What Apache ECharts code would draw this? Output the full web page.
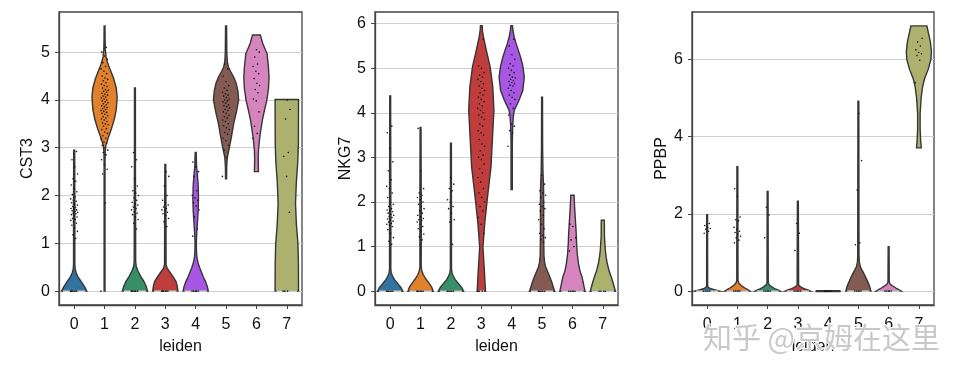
<!DOCTYPE html>
<html><head><meta charset="utf-8">
<script src="https://cdn.jsdelivr.net/npm/echarts@6/dist/echarts.min.js"></script>
<style>html,body{margin:0;padding:0;background:#fff}#c{width:964px;height:374px}</style>
</head><body><div id="c"></div>
<script>
// ---------- data ----------
const categories = ['0','1','2','3','4','5','6','7'];
const genes = ['CST3','NKG7','PPBP'];
const cst3Ticks = [0,1,2,3,4,5];
const nkg7Ticks = [0,1,2,3,4,5,6];
const ppbpTicks = [0,2,4,6];

// violin density profiles per cluster: [expression value, relative width]
const cst3Shapes = [
  [[0,1],[0.09,0.83],[0.2,0.56],[0.3,0.3],[0.38,0.16],[0.46,0.08],[0.56,0.05],[1.5,0.05],[1.8,0.055],[2.2,0.045],[2.95,0.04]],
  [[0,0.035],[2.6,0.035],[2.9,0.05],[3.05,0.1],[3.2,0.28],[3.4,0.55],[3.6,0.78],[3.8,0.93],[4.05,1],[4.25,0.93],[4.45,0.72],[4.6,0.5],[4.75,0.27],[4.9,0.12],[5.05,0.06],[5.3,0.04],[5.55,0.035]],
  [[0,1],[0.09,0.9],[0.2,0.72],[0.3,0.48],[0.42,0.24],[0.52,0.1],[0.62,0.06],[1.8,0.05],[2.5,0.04],[4.25,0.035]],
  [[0,1],[0.1,0.95],[0.2,0.85],[0.3,0.62],[0.4,0.35],[0.48,0.14],[0.56,0.06],[1.7,0.05],[2.65,0.035]],
  [[0,1],[0.1,0.92],[0.2,0.78],[0.3,0.6],[0.4,0.45],[0.5,0.3],[0.6,0.18],[0.7,0.1],[0.85,0.06],[1.0,0.05],[1.2,0.08],[1.45,0.14],[1.7,0.2],[1.95,0.22],[2.2,0.2],[2.45,0.13],[2.6,0.07],[2.9,0.04]],
  [[2.35,0.04],[2.6,0.05],[2.8,0.1],[3.0,0.26],[3.25,0.44],[3.5,0.6],[3.75,0.82],[4.0,1.0],[4.2,0.93],[4.35,0.8],[4.48,0.6],[4.6,0.35],[4.69,0.19],[4.8,0.1],[5.0,0.06],[5.55,0.04]],
  [[2.5,0.16],[2.75,0.14],[2.95,0.16],[3.23,0.27],[3.58,0.47],[3.8,0.65],[4.0,0.83],[4.25,0.96],[4.48,1.0],[4.7,0.95],[4.97,0.84],[5.18,0.5],[5.36,0.31]],
  [[0,0.93],[0.6,0.92],[1.0,0.88],[1.4,0.76],[1.84,0.69],[2.3,0.76],[2.7,0.87],[3.1,0.92],[4.01,0.93]]
];
const nkg7Shapes = [
  [[0,1],[0.08,0.86],[0.17,0.6],[0.26,0.34],[0.34,0.18],[0.42,0.08],[0.5,0.05],[1.5,0.055],[2.0,0.05],[4.38,0.035]],
  [[0,1],[0.09,0.88],[0.19,0.64],[0.29,0.38],[0.38,0.2],[0.47,0.09],[0.55,0.05],[1.6,0.06],[2.3,0.05],[3.67,0.035]],
  [[0,1],[0.08,0.86],[0.17,0.6],[0.26,0.34],[0.34,0.18],[0.42,0.08],[0.5,0.045],[3.32,0.035]],
  [[0,0.33],[0.47,0.24],[0.99,0.13],[1.52,0.27],[2.11,0.49],[2.79,0.77],[3.46,0.89],[4.06,1],[4.58,0.91],[5.03,0.7],[5.4,0.4],[5.7,0.17],[5.85,0.09],[5.95,0.07]],
  [[2.28,0.05],[3.3,0.05],[3.6,0.07],[3.76,0.09],[3.95,0.14],[4.06,0.21],[4.28,0.58],[4.5,0.88],[4.8,1],[5.05,0.88],[5.25,0.7],[5.4,0.53],[5.55,0.35],[5.7,0.2],[5.85,0.1],[5.95,0.06]],
  [[0,1],[0.08,0.9],[0.18,0.8],[0.32,0.62],[0.45,0.42],[0.55,0.28],[0.65,0.2],[0.8,0.15],[1.2,0.13],[1.8,0.13],[2.3,0.12],[2.7,0.07],[3.2,0.045],[4.35,0.035]],
  [[0,1],[0.1,0.92],[0.2,0.85],[0.32,0.76],[0.45,0.6],[0.62,0.48],[0.85,0.38],[1.07,0.33],[1.3,0.3],[1.52,0.25],[1.75,0.2],[1.89,0.17],[2.15,0.13]],
  [[0,1],[0.1,0.9],[0.2,0.8],[0.32,0.67],[0.45,0.5],[0.62,0.35],[0.77,0.26],[0.92,0.2],[1.22,0.13],[1.59,0.12]]
];
const ppbpShapes = [
  [[0,1],[0.02,0.8],[0.04,0.55],[0.06,0.32],[0.08,0.16],[0.11,0.06],[0.15,0.04],[1.98,0.035]],
  [[0,1],[0.04,0.82],[0.08,0.6],[0.12,0.4],[0.17,0.22],[0.22,0.1],[0.28,0.05],[3.22,0.035]],
  [[0,1],[0.03,0.82],[0.06,0.6],[0.1,0.38],[0.14,0.2],[0.18,0.09],[0.22,0.05],[2.58,0.035]],
  [[0,1],[0.03,0.8],[0.06,0.55],[0.09,0.33],[0.12,0.16],[0.16,0.06],[2.33,0.035]],
  [[0,1]],
  [[0,1],[0.1,0.92],[0.2,0.8],[0.33,0.62],[0.46,0.43],[0.55,0.28],[0.63,0.16],[0.75,0.08],[0.9,0.05],[4.92,0.035]],
  [[0,1],[0.04,0.8],[0.08,0.58],[0.12,0.38],[0.16,0.2],[0.2,0.09],[0.25,0.05],[1.15,0.035]],
  [[3.71,0.19],[3.9,0.14],[4.2,0.1],[4.6,0.1],[5.0,0.18],[5.3,0.3],[5.5,0.45],[5.75,0.75],[6.0,0.96],[6.2,1.0],[6.45,0.92],[6.7,0.75],[6.87,0.64]]
];

// individual cells (strip points) per cluster
const cst3Dots = [
  [0,0,0,0,0,0,1.1,1.18,1.25,1.32,1.38,1.42,1.45,1.48,1.5,1.52,1.55,1.57,1.6,1.62,1.63,1.65,1.67,1.68,1.7,1.72,1.73,1.75,1.77,1.8,1.82,1.85,1.88,1.9,1.93,1.97,2.02,2.08,2.15,2.22,2.3,2.35,2.45,2.6,2.75,2.92],
  [0,1.85,2.45,2.55,2.65,2.75,2.85,2.9,2.95,3.0,3.05,3.1,3.12,3.18,3.2,3.25,3.3,3.33,3.38,3.4,3.45,3.48,3.5,3.52,3.55,3.58,3.6,3.62,3.65,3.67,3.7,3.72,3.74,3.76,3.78,3.8,3.82,3.84,3.86,3.88,3.9,3.92,3.94,3.96,3.98,4.0,4.02,4.04,4.06,4.08,4.1,4.12,4.14,4.16,4.18,4.2,4.22,4.25,4.28,4.3,4.33,4.36,4.4,4.43,4.46,4.5,4.55,4.6,4.65,4.7,4.78,4.85,4.92,5.0,5.1],
  [0,0,0,0,0,0,1.3,1.42,1.5,1.55,1.6,1.63,1.66,1.7,1.73,1.76,1.8,1.83,1.86,1.9,1.95,2.0,2.05,2.1,2.2,2.35,2.6,2.75,2.9],
  [0,0,0,0,0,0,1.35,1.45,1.52,1.58,1.62,1.65,1.68,1.7,1.73,1.76,1.8,1.85,1.9,2.0,2.2,2.4,2.5],
  [0,0,0,0,0,1.15,1.3,1.55,1.7,1.78,1.85,1.9,1.95,2.0,2.1,2.4,2.5,2.6,2.7],
  [2.4,2.8,2.95,3.05,3.15,3.2,3.28,3.32,3.38,3.42,3.46,3.5,3.55,3.58,3.62,3.65,3.68,3.72,3.75,3.78,3.8,3.83,3.86,3.88,3.9,3.93,3.96,3.98,4.0,4.02,4.05,4.08,4.1,4.13,4.16,4.2,4.25,4.3,4.38,4.5,4.65,4.75],
  [3.2,3.3,3.45,3.75,3.98,4.02,4.15,4.22,4.3,4.35,4.45,4.55,4.6,4.7,4.75,4.9,5.0,5.05],
  [0,0,0,1.65,2.4,2.82,2.9,3.6,3.8,4.0]
];
const nkg7Dots = [
  [0,0,0,0,0,0,1.05,1.12,1.2,1.3,1.38,1.45,1.48,1.5,1.52,1.55,1.57,1.6,1.62,1.65,1.67,1.7,1.72,1.75,1.78,1.8,1.82,1.85,1.9,1.95,2.0,2.1,2.2,2.3,2.35,2.5,2.7,2.9,3.2,3.55,3.7],
  [0,0,0,0,0,0,1.15,1.22,1.28,1.35,1.4,1.45,1.5,1.55,1.58,1.6,1.63,1.67,1.7,1.75,1.8,1.85,1.9,1.95,2.0,2.05,2.1,2.15,2.2,2.3,2.7,3.65],
  [0,0,0,0,0,0,1.05,1.55,1.6,1.75,1.85,1.9,2.0,2.05,2.25,2.3,2.4,2.55],
  [0,0,0,1.3,1.5,1.65,1.8,1.9,2.0,2.1,2.2,2.3,2.45,2.55,2.65,2.75,2.85,2.95,3.0,3.05,3.15,3.25,3.3,3.4,3.5,3.55,3.6,3.7,3.75,3.85,3.9,3.95,4.0,4.05,4.1,4.15,4.2,4.25,4.3,4.35,4.4,4.45,4.5,4.55,4.6,4.65,4.7,4.75,4.8,4.85,4.9,5.0,5.05,5.65],
  [3.25,3.55,3.6,3.7,3.75,3.95,4.1,4.2,4.3,4.35,4.4,4.45,4.5,4.55,4.6,4.62,4.65,4.68,4.7,4.72,4.75,4.78,4.8,4.85,4.9,4.95,5.0,5.05,5.1,5.2,5.3,5.5,5.65],
  [0,0,0,0,0,0,1.1,1.15,1.2,1.25,1.3,1.4,1.5,1.6,1.7,1.8,1.85,1.9,1.95,2.0,2.1,2.15,2.2,2.25,2.4,2.6],
  [0,0,0,0,0,0.9,1.0,1.15,1.2,1.45,1.5],
  [0,0,0,0]
];
const ppbpDots = [
  [0,0,0,0,0,1.5,1.55,1.6,1.62,1.65,1.7,1.75],
  [0,0,0,0,0,1.25,1.32,1.38,1.42,1.48,1.52,1.55,1.6,1.65,1.82,1.85,1.92,2.45,2.65],
  [0,0,0,0,0,1.38,1.97,2.17],
  [0,0,0,0,0,1.05,1.5,1.75],
  [0,0,0,0,0],
  [0,0,0,0,0,1.2,1.25,2.62,3.38,4.6],
  [0,0,0,0,0],
  [5.4,5.98,6.1,6.15,6.18,6.25,6.35,6.45,6.55]
];

// ---------- style ----------
const palette = ['#3274a1','#e1812c','#368f67','#c03d3e','#a757e4','#845b53','#d684bd','#acb26d'];
const FONT = '"Liberation Sans", Arial, sans-serif';
const FS = 16;
const panels = [
  {shapes: cst3Shapes, dots: cst3Dots, ticks: cst3Ticks, min: -0.29, max: 5.84, left: 59, right: 662, nameGap: 23},
  {shapes: nkg7Shapes, dots: nkg7Dots, ticks: nkg7Ticks, min: -0.31, max: 6.26, left: 375, right: 346, nameGap: 20},
  {shapes: ppbpShapes, dots: ppbpDots, ticks: ppbpTicks, min: -0.36, max: 7.23, left: 692, right: 30, nameGap: 22}
];

function makeRender(shapes, dots) {
  return function (params, api) {
    const ci = api.value(0);
    const prof = shapes[ci];
    const band = api.size([1, 0])[0];
    const hw = band * 0.415;
    const cx = api.coord([ci, 0])[0];
    const right = [], left = [];
    prof.forEach(function (p) {
      const py = api.coord([ci, p[0]])[1];
      right.push([cx + p[1] * hw, py]);
      left.unshift([cx - p[1] * hw, py]);
    });
    const children = [{
      type: 'polygon',
      shape: {points: right.concat(left)},
      style: {fill: palette[ci], stroke: '#363636', lineWidth: prof.length > 1 ? 1.4 : 2.2}
    }];
    if (prof.length > 1 && prof[0][0] === 0 && prof[0][1] > 0.3) {
      const py = api.coord([ci, 0])[1];
      const w = prof[0][1] * hw;
      children.push({type: 'line', shape: {x1: cx - w + 1.5, y1: py, x2: cx + w - 1.5, y2: py},
        style: {stroke: '#eeeeee', lineWidth: 1.3}});
    }
    dots[ci].forEach(function (v, i) {
      const f = ((i * 0.618034) % 1) - 0.5;
      const p = api.coord([ci, v]);
      children.push({type: 'circle', shape: {cx: p[0] + f * 0.24 * band, cy: p[1], r: 0.8},
        style: {fill: '#111'}});
    });
    return {type: 'group', children: children};
  };
}

const option = {
  animation: false,
  backgroundColor: '#fff',
  grid: panels.map(function (p) {
    return {left: p.left, right: p.right, top: 12, bottom: 69, show: true,
      borderColor: '#444', borderWidth: 1.3, backgroundColor: 'transparent'};
  }),
  xAxis: panels.map(function (p, i) {
    return {
      type: 'category', gridIndex: i, data: categories,
      name: 'leiden', nameLocation: 'middle', nameGap: 34,
      nameTextStyle: {fontFamily: FONT, fontSize: FS, color: '#111'},
      axisLine: {show: true, onZero: false, lineStyle: {color: '#444', width: 1.3}},
      axisTick: {show: true, alignWithLabel: true, length: 4, lineStyle: {color: '#444', width: 1}},
      axisLabel: {fontFamily: FONT, fontSize: FS, color: '#111', margin: 12},
      splitLine: {show: false}
    };
  }),
  yAxis: panels.map(function (p, i) {
    return {
      type: 'value', gridIndex: i, min: p.min, max: p.max,
      name: genes[i], nameLocation: 'middle', nameGap: p.nameGap, nameRotate: 90,
      nameTextStyle: {fontFamily: FONT, fontSize: FS, color: '#111'},
      axisLine: {show: true, lineStyle: {color: '#444', width: 1.3}},
      axisTick: {show: true, length: 4, customValues: p.ticks, lineStyle: {color: '#444', width: 1}},
      axisLabel: {fontFamily: FONT, fontSize: FS, color: '#111', margin: 9, customValues: p.ticks},
      splitLine: {show: true, lineStyle: {color: '#cfcfcf', width: 1}}
    };
  }),
  series: panels.map(function (p, i) {
    return {
      type: 'custom', xAxisIndex: i, yAxisIndex: i,
      data: categories.map(function (c, k) { return [k]; }),
      encode: {x: 0},
      renderItem: makeRender(p.shapes, p.dots),
      silent: true
    };
  }),
  graphic: [{
    type: 'text', left: 702, top: 322, z: 100,
    style: {text: '知乎 @京姆在这里', font: '29px "Noto Sans CJK SC"',
      fill: 'rgba(190,190,190,0.85)', stroke: '#ffffff', lineWidth: 2}
  }]
};

const chart = echarts.init(document.getElementById('c'), null, {renderer: 'canvas'});
chart.setOption(option);
</script>
</body></html>
